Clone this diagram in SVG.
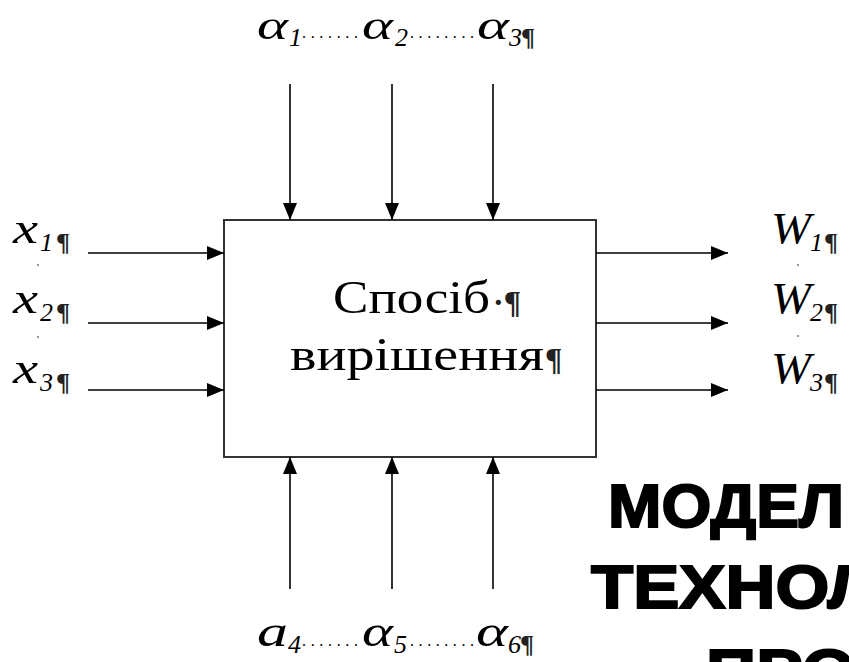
<svg xmlns="http://www.w3.org/2000/svg" width="849" height="662" viewBox="0 0 849 662">
<defs>
<style>
.m{font-family:"Liberation Serif","Times New Roman",serif;font-style:italic;fill:#000}
.big{font-size:44px}
.top{font-size:40px}
.sub{font-size:26px}
.dots{font-family:"Liberation Serif",serif;font-size:16px;fill:#000}
.p{font-family:"Liberation Serif",serif;font-size:26px;font-weight:bold;fill:#222}
.ctr{font-family:"Liberation Serif","Times New Roman",serif;font-size:47px;fill:#000}
.ttl{font-family:"Liberation Sans",Arial,sans-serif;font-weight:bold;font-size:62px;fill:#000;stroke:#000;stroke-width:2}
.c{stroke:#000;stroke-width:1.6;fill:none;marker-end:url(#ah)}
</style>
<marker id="ah" markerUnits="userSpaceOnUse" markerWidth="17" markerHeight="14" refX="17" refY="7" orient="auto">
<path d="M0,0 L17,7 L0,14 Z" fill="#000"/>
</marker>
</defs>
<rect width="849" height="662" fill="#fff"/>

<g id="box">
<rect x="224" y="220" width="372" height="237" fill="#fff" stroke="#333" stroke-width="2"/>
<text class="ctr" x="333" y="313" textLength="157" lengthAdjust="spacingAndGlyphs">Спосіб</text>
<text class="p" x="493" y="313" style="font-size:32px">·¶</text>
<text class="ctr" x="290" y="370" textLength="254" lengthAdjust="spacingAndGlyphs">вирішення</text>
<text class="p" x="545" y="370" style="font-size:32px">¶</text>
</g>

<g id="connectors">
<path class="c" d="M290,84 V220"/>
<path class="c" d="M392,84 V220"/>
<path class="c" d="M493,84 V220"/>
<path class="c" d="M290,589 V457"/>
<path class="c" d="M392,589 V457"/>
<path class="c" d="M493,589 V457"/>
<path class="c" d="M88,253 H224"/>
<path class="c" d="M88,323 H224"/>
<path class="c" d="M88,390 H224"/>
<path class="c" d="M596,253 H728"/>
<path class="c" d="M596,323 H728"/>
<path class="c" d="M596,390 H728"/>
</g>

<g id="top-labels">
<text class="m top" x="257" y="39" textLength="31" lengthAdjust="spacingAndGlyphs">α</text><text class="m sub" x="289" y="46">1</text>
<text class="dots" x="302" y="38" textLength="56" lengthAdjust="spacing">.......</text>
<text class="m top" x="362" y="39" textLength="31" lengthAdjust="spacingAndGlyphs">α</text><text class="m sub" x="395" y="46">2</text>
<text class="dots" x="410" y="38" textLength="64" lengthAdjust="spacing">........</text>
<text class="m top" x="477" y="39" textLength="32" lengthAdjust="spacingAndGlyphs">α</text><text class="m sub" x="509" y="46">3</text>
<text class="p" x="521" y="46">¶</text>
</g>

<g id="bottom-labels">
<text class="m big" x="257" y="646" textLength="31" lengthAdjust="spacingAndGlyphs">a</text><text class="m sub" x="288" y="653">4</text>
<text class="dots" x="302" y="646" textLength="56" lengthAdjust="spacing">.......</text>
<text class="m big" x="362" y="646" textLength="31" lengthAdjust="spacingAndGlyphs">α</text><text class="m sub" x="394" y="653">5</text>
<text class="dots" x="410" y="646" textLength="64" lengthAdjust="spacing">........</text>
<text class="m big" x="476" y="646" textLength="32" lengthAdjust="spacingAndGlyphs">α</text><text class="m sub" x="508" y="653">6</text>
<text class="p" x="520" y="653">¶</text>
</g>

<g id="inputs">
<text class="m big" x="13" y="243" textLength="25" lengthAdjust="spacingAndGlyphs">x</text><text class="m sub" x="40" y="251">1</text><text class="p" x="56" y="251">¶</text>
<text class="m big" x="13" y="313" textLength="25" lengthAdjust="spacingAndGlyphs">x</text><text class="m sub" x="40" y="321">2</text><text class="p" x="56" y="321">¶</text>
<text class="m big" x="13" y="383" textLength="25" lengthAdjust="spacingAndGlyphs">x</text><text class="m sub" x="40" y="391">3</text><text class="p" x="56" y="391">¶</text>
<circle cx="38" cy="265" r="1" fill="#777"/>
<circle cx="38" cy="337" r="1" fill="#777"/>
</g>

<g id="outputs">
<text class="m big" x="771" y="243" textLength="40" lengthAdjust="spacingAndGlyphs">W</text><text class="m sub" x="810" y="251">1</text><text class="p" x="824" y="251">¶</text>
<text class="m big" x="771" y="313" textLength="40" lengthAdjust="spacingAndGlyphs">W</text><text class="m sub" x="810" y="321">2</text><text class="p" x="824" y="321">¶</text>
<text class="m big" x="771" y="383" textLength="40" lengthAdjust="spacingAndGlyphs">W</text><text class="m sub" x="810" y="391">3</text><text class="p" x="824" y="391">¶</text>
<circle cx="798" cy="265" r="1" fill="#777"/>
<circle cx="798" cy="336" r="1" fill="#777"/>
</g>

<g id="title">
<text class="ttl" x="608" y="527" textLength="236" lengthAdjust="spacingAndGlyphs">МОДЕЛ</text>
<text class="ttl" x="591" y="608" textLength="285" lengthAdjust="spacingAndGlyphs">ТЕХНОЛ</text>
<text class="ttl" x="706" y="692" textLength="150" lengthAdjust="spacingAndGlyphs">ПРО</text>
</g>
</svg>
